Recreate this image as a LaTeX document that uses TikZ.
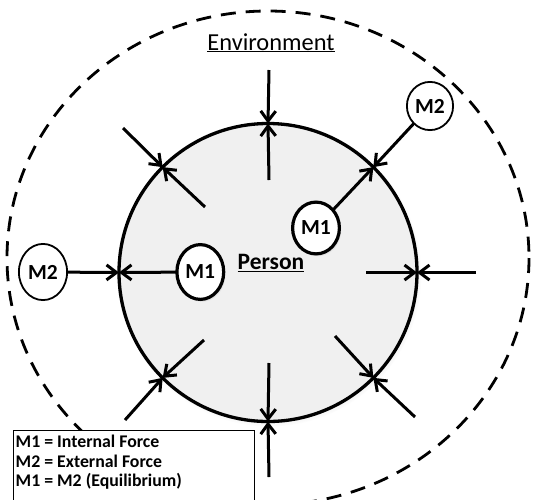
\documentclass[tikz,border=0pt]{standalone}
\usepackage{fontspec}
\setmainfont{Carlito}
\usetikzlibrary{arrows.meta,shapes.geometric,shadows,fadings}
\definecolor{personfill}{RGB}{240,240,240}
\begin{document}
\begin{tikzpicture}[x=1pt,y=-1pt,
  force/.style={line width=3pt, -{Straight Barb[length=10pt,width=15pt]}},
  softshadow/.style={circular drop shadow={shadow scale=1.02,
    shadow xshift=1.5pt, shadow yshift=-2pt, opacity=0.35}},
  mnode/.style={ellipse, draw, fill=white, inner sep=0pt, outer sep=0pt,
    font=\bfseries\fontsize{21.5}{26}\selectfont},
  mexternal/.style={mnode, line width=1.8pt},
  minternal/.style={mnode, line width=3.2pt, softshadow},
  legendtext/.style={anchor=base west, inner sep=0pt,
    font=\bfseries\fontsize{17.8}{21}\selectfont}
]
\useasboundingbox (0,0) rectangle (533,499);
\clip (0,0) rectangle (533,499);

% environment boundary
\draw[line width=2.8pt, dash pattern=on 15pt off 10pt]
  (268,258) ellipse [x radius=261, y radius=247];
\node[anchor=base, inner sep=0pt, font=\fontsize{24.4}{28}\selectfont]
  (env) at (271,50) {\underline{Environment}};

% the person
\node[circle, draw, line width=3.3pt, fill=personfill, minimum size=298pt,
  inner sep=0pt, outer sep=0pt, softshadow] (P) at (268,272.5) {};
\node[anchor=base, inner sep=0pt, font=\bfseries\fontsize{23.5}{28}\selectfont]
  (person) at (271,269.3) {\underline{Person}};

% internal and external forces
\node[mexternal, minimum width=48.2pt, minimum height=56.2pt] (M2a) at (43,272) {M2};
\node[minternal, minimum width=46.8pt, minimum height=54.8pt] (M1a) at (200.3,272) {M1};
\node[minternal, minimum width=46.8pt, minimum height=51.8pt] (M1b) at (316,228) {M1};
\node[mexternal, minimum width=46.2pt, minimum height=48.2pt] (M2b) at (430,106) {M2};

\coordinate (topout) at (269,70);
\coordinate (topin) at (269,180);
\coordinate (botin) at (269,363);
\coordinate (botout) at (269,477);
\coordinate (rightout) at (476,272.5);
\coordinate (rightin) at (366,272.5);
\coordinate (ulout) at (123,128);
\coordinate (ulin) at (205,207);
\coordinate (llin) at (204,340);
\coordinate (llout) at (125,420);
\coordinate (lrin) at (335,336);
\coordinate (lrout) at (415,417);

\draw[force] (topout) -- (P.90);
\draw[force] (topin) -- (P.90);
\draw[force] (botin) -- (P.270);
\draw[force] (botout) -- (P.270);
\draw[force] (rightout) -- (P.0);
\draw[force] (rightin) -- (P.0);
\draw[force] (ulout) -- (P.135);
\draw[force] (ulin) -- (P.135);
\draw[force] (llin) -- (P.225);
\draw[force] (llout) -- (P.225);
\draw[force] (lrin) -- (P.315);
\draw[force] (lrout) -- (P.315);
\draw[force] (M2a) -- (P.180);
\draw[force] (M1a) -- (P.180);
\draw[force] (M2b) -- (P.45);
\draw[force] (M1b) -- (P.45);

% legend
\node[draw, line width=1.4pt, fill=white, anchor=north west,
  minimum width=241pt, minimum height=90pt, inner sep=0pt] (legend) at (12.7,430) {};
\node[legendtext] (l1) at (15.5,447) {M1 = Internal Force};
\node[legendtext] (l2) at (15.5,467) {M2 = External Force};
\node[legendtext] (l3) at (15.5,486.5) {M1 = M2 (Equilibrium)};
\end{tikzpicture}
\end{document}
